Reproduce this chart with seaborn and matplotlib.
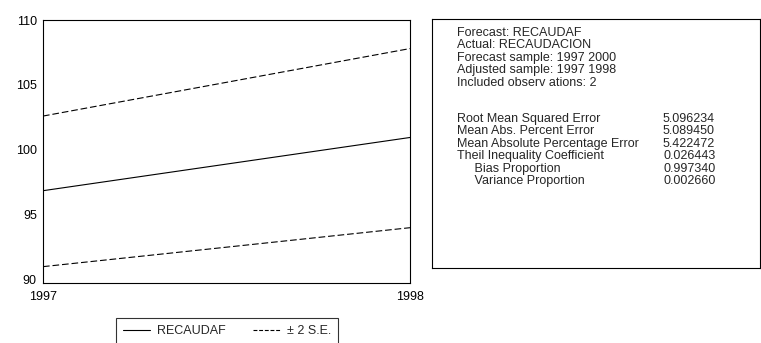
import matplotlib
matplotlib.use('Agg')
import matplotlib.pyplot as plt
import seaborn as sns
import pandas as pd

# Forecast values
years = [1997, 1998]
forecast = [96.85, 100.95]
upper_band = [102.6, 107.8]
lower_band = [91.0, 94.0]

y_ticks = [90, 95, 100, 105, 110]

stats_labels = ['Root Mean Squared Error', 'Mean Abs. Percent Error',
                'Mean Absolute Percentage Error', 'Theil Inequality Coefficient',
                '     Bias Proportion', '     Variance Proportion']
stats_values = ['5.096234', '5.089450', '5.422472', '0.026443', '0.997340', '0.002660']
header_lines = ['Forecast: RECAUDAF', 'Actual: RECAUDACION', 'Forecast sample: 1997 2000',
                'Adjusted sample: 1997 1998', 'Included observ ations: 2']

sns.set_style('white')
plt.rcParams['font.family'] = ['Liberation Sans', 'DejaVu Sans']
plt.rcParams['font.size'] = 9

W, H = 761, 343
fig = plt.figure(figsize=(W / 100, H / 100), dpi=100)
ax = fig.add_axes([43 / W, (H - 283) / H, (410 - 43) / W, (283 - 20) / H])

df = pd.DataFrame({'year': years, 'forecast': forecast, 'upper': upper_band, 'lower': lower_band})
sns.lineplot(data=df, x='year', y='forecast', ax=ax, color='black', linewidth=0.8, label='RECAUDAF')
sns.lineplot(data=df, x='year', y='upper', ax=ax, color='black', linewidth=0.8, label='\u00b1 2 S.E.')
sns.lineplot(data=df, x='year', y='lower', ax=ax, color='black', linewidth=0.8, label='_nolegend_')
for ln in ax.lines[1:]:
    ln.set_dashes((6, 2.6))

ax.set_xlim(1997, 1998)
ax.set_ylim(89.74, 110)
ax.set_xticks(years)
ax.set_xticklabels([str(y) for y in years])
ax.set_yticks(y_ticks)
ax.set_xlabel('')
ax.set_ylabel('')
ax.tick_params(axis='both', direction='out', length=4, width=0.8, colors='black', pad=1.5, labelsize=9)
ax.tick_params(axis='y', length=3)
for s in ax.spines.values():
    s.set_color('black')
    s.set_linewidth(0.8)

handles, labels = ax.get_legend_handles_labels()
ax.get_legend().remove()
leg = fig.legend(handles, labels, loc='upper left', bbox_to_anchor=(116 / W, 1 - 318 / H),
                 ncol=2, frameon=True, fancybox=False, edgecolor='black', handlelength=2.2,
                 handletextpad=0.5, columnspacing=2.2, borderpad=0.55, borderaxespad=0,
                 fontsize=9)
leg.get_frame().set_linewidth(0.8)
leg.get_lines()[1].set_dashes((3.5, 1.6))

# statistics box
box = fig.add_axes([432 / W, (H - 268) / H, (760 - 432) / W, (268 - 19) / H])
box.set_xticks([])
box.set_yticks([])
for s in box.spines.values():
    s.set_color('black')
    s.set_linewidth(0.8)

y = 33
for line in header_lines:
    fig.text(457 / W, 1 - y / H, line, va='center', ha='left', fontsize=9)
    y += 12.4
y = 119
for lab, val in zip(stats_labels, stats_values):
    fig.text(457 / W, 1 - y / H, lab, va='center', ha='left', fontsize=9)
    fig.text(663 / W, 1 - y / H, val, va='center', ha='left', fontsize=9)
    y += 12.4

fig.savefig('out.png', dpi=100)
